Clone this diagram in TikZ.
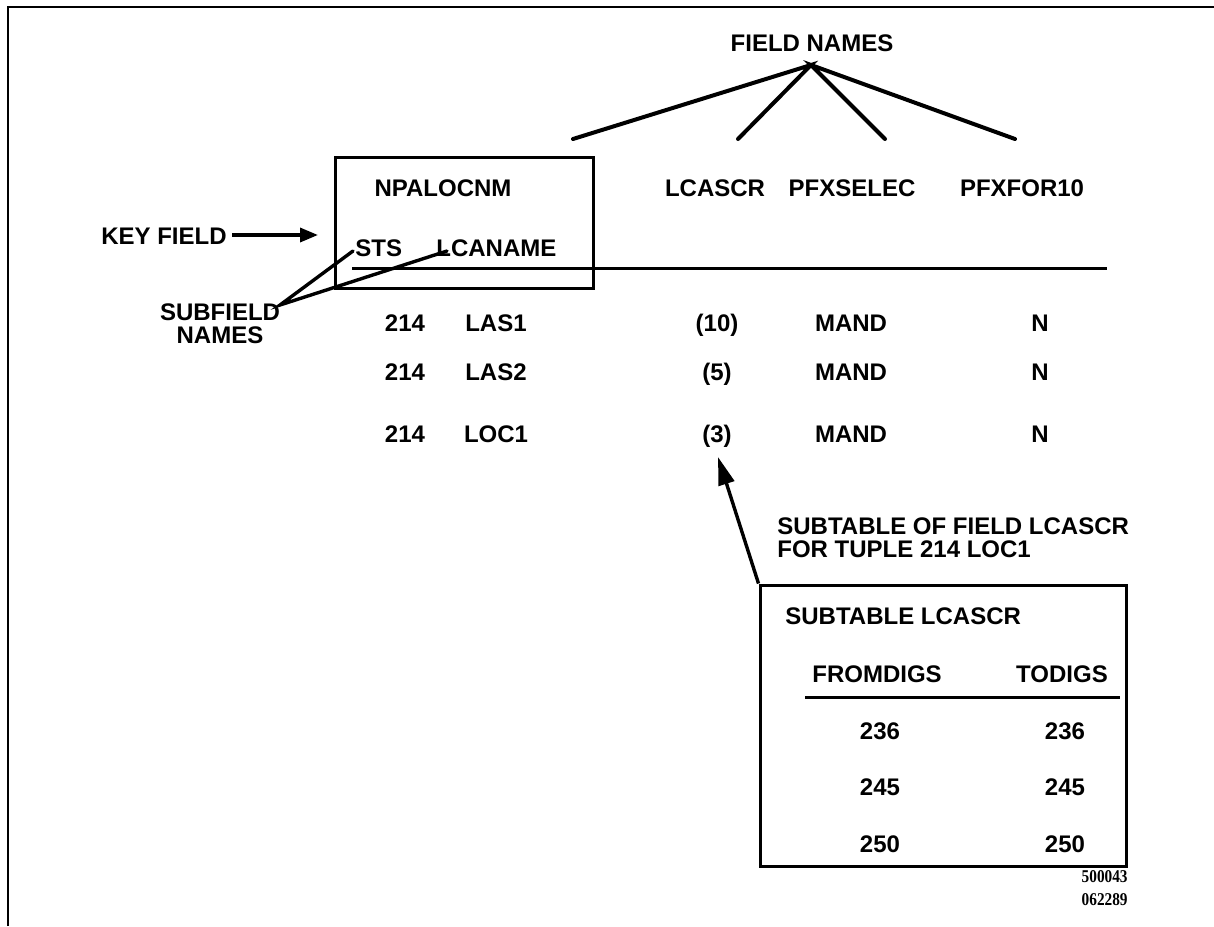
\documentclass[tikz,border=0pt]{standalone}
\usepackage{fontspec}
\setmainfont{Liberation Sans}
\newfontfamily\numserif{Liberation Serif}[FakeStretch=0.85]
\usetikzlibrary{arrows.meta}
\begin{document}
\begin{tikzpicture}[x=0.5pt,y=-0.5pt,
  lbl/.style={inner sep=0pt,anchor=base,font=\bfseries\fontsize{12}{13}\selectfont},
  lbll/.style={lbl,anchor=base west},
  boxline/.style={draw,line width=1.5pt},
  fan/.style={line width=2pt},
  rule/.style={line width=1.5pt},
  frame/.style={line width=1pt},
  ptr/.style={line width=1.7pt}]
\useasboundingbox (0,0) rectangle (1214,926);
% frame
\draw[frame] (8,926) -- (8,7) -- (1214,7);
% field names fan
\node[lbl] (fn) at (812,51) {FIELD NAMES};
\coordinate (apex) at (811,65);
\coordinate (f1) at (573,139);
\coordinate (f2) at (738,139);
\coordinate (f3) at (885,139);
\coordinate (f4) at (1015,139);
\draw[fan,line cap=round] (f1) -- (apex) -- (f2);
\draw[fan,line cap=round] (f3) -- (apex) -- (f4);
% key field box
\node[boxline,minimum width=129pt,minimum height=65.5pt,inner sep=0pt] (keybox) at (464,223) {};
\node[lbl] (npa) at (443,196) {NPALOCNM};
\node[lbll] (sts) at (355,256) {STS};
\node[lbll] (lcaname) at (436,256) {LCANAME};
% headers
\node[lbl] (h1) at (715,196) {LCASCR};
\node[lbl] (h2) at (852,196) {PFXSELEC};
\node[lbl] (h3) at (1022,196) {PFXFOR10};
% rule
\coordinate (r1) at (352,268);
\coordinate (r2) at (1107,268);
\draw[rule] (r1) -- (r2);
% key field label
\node[lbl] (kf) at (164,244) {KEY FIELD};
\coordinate (kftip) at (318,235);
\coordinate (kfs) at (232,235);
\draw[ptr,-{Triangle[length=9pt,width=7pt]}] (kfs) -- (kftip);
% subfield names
\node[lbl] (sfn1) at (220,320) {SUBFIELD};
\node[lbl] (sfn2) at (220,343) {NAMES};
\coordinate (sfp) at (280,305);
\coordinate (sfa) at (353,251);
\coordinate (sfb) at (447,251);
\draw[ptr,line cap=round] (sfa) -- (sfp) -- (sfb);
% data rows
\foreach \y/\b/\c [count=\i] in {331/LAS1/(10),380/LAS2/(5),442/LOC1/(3)}{
  \node[lbl] (a\i) at (405,\y) {214};
  \node[lbl] (b\i) at (496,\y) {\b};
  \node[lbl] (c\i) at (717,\y) {\c};
  \node[lbl] (d\i) at (851,\y) {MAND};
  \node[lbl] (e\i) at (1040,\y) {N};
}
% subtable caption
\node[lbll] (cap1) at (777,534) {SUBTABLE OF FIELD LCASCR};
\node[lbll] (cap2) at (777,557) {FOR TUPLE 214 LOC1};
% subtable box
\node[boxline,minimum width=183pt,minimum height=140.5pt,inner sep=0pt] (sub) at (943,725.5) {};
\coordinate (tip3) at (718,457);
\draw[ptr,-{Triangle[length=14pt,width=8pt]}] (sub.north west) -- (tip3);
\node[lbll] (subt) at (785,624) {SUBTABLE LCASCR};
\node[lbl] (fd) at (877,682) {FROMDIGS};
\node[lbl] (td) at (1062,682) {TODIGS};
\coordinate (s1) at (805,697);
\coordinate (s2) at (1120,697);
\draw[rule] (s1) -- (s2);
\foreach \y/\v [count=\i] in {739/236,795/245,852/250}{
  \node[lbl] (l\i) at (880,\y) {\v};
  \node[lbl] (m\i) at (1065,\y) {\v};
}
% figure numbers
\node[inner sep=0pt,anchor=base east,font=\numserif\bfseries\fontsize{9}{10}\selectfont] (n1) at (1128,882) {500043};
\node[inner sep=0pt,anchor=base east,font=\numserif\bfseries\fontsize{9}{10}\selectfont] (n2) at (1128,905) {062289};
\end{tikzpicture}
\end{document}
